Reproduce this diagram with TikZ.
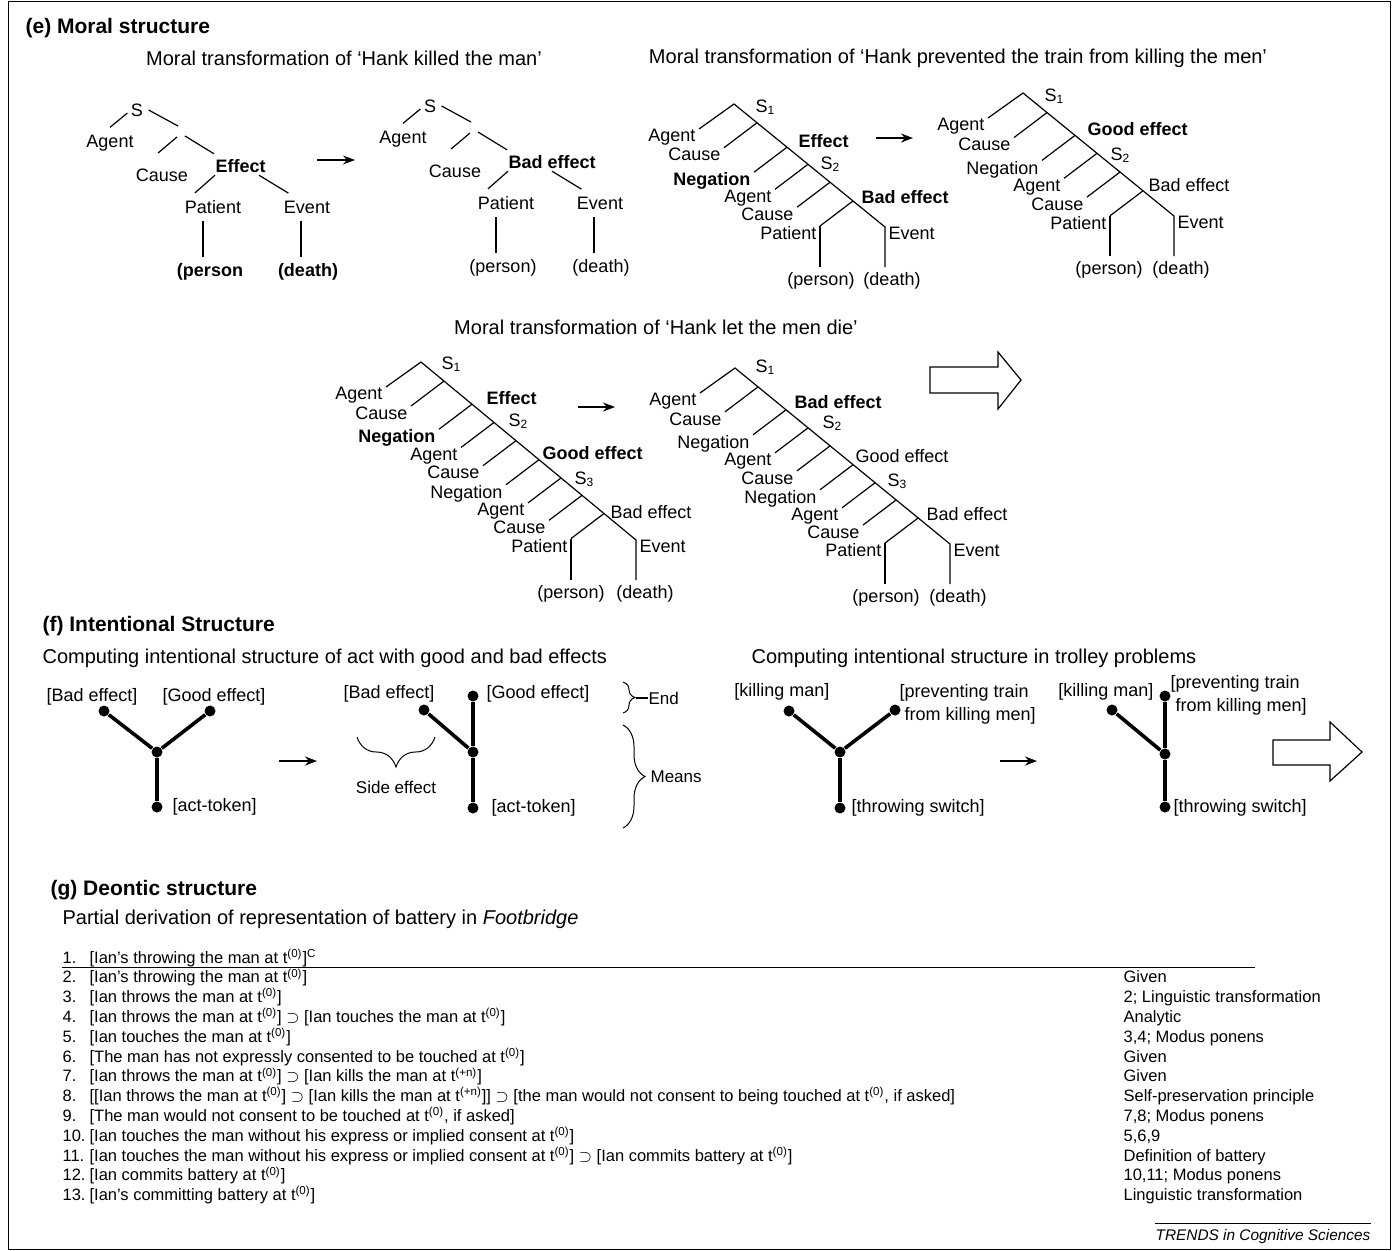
\documentclass[tikz,border=0pt]{standalone}
\usepackage{fontspec}
\setmainfont{Liberation Sans}
\usetikzlibrary{calc,arrows.meta,decorations.pathreplacing}

\newcommand{\tnull}{t\textsuperscript{(0)}}
\newcommand{\tplus}{t\textsuperscript{(+n)}}

\tikzset{
  lbl/.style={inner sep=0pt, font=\fontsize{9}{11.5}\selectfont},
  brl/.style={lbl, inner xsep=1.5pt, anchor=north east},
  small/.style={inner sep=0pt, font=\fontsize{8.5}{10}\selectfont},
  ttl/.style={inner sep=0pt, anchor=west, font=\fontsize{10}{12}\selectfont},
  sect/.style={inner sep=0pt, anchor=west, font=\fontsize{10.5}{12}\selectfont\bfseries},
  row/.style={inner sep=0pt, anchor=base west, font=\fontsize{8.25}{10}\selectfont},
  dot/.style={circle, fill, inner sep=0pt, minimum size=5.5pt},
  bond/.style={line width=1.8pt},
  arr/.style={-{Stealth[length=6pt,width=4.5pt]}, line width=0.6pt},
  brc/.style={decorate, decoration={brace, amplitude=#1}, line width=0.5pt}
}

\begin{document}
\begin{tikzpicture}[x=0.5pt, y=-0.5pt, line width=0.6pt]
\useasboundingbox (0,0) rectangle (1393,1250);
\draw[line width=0.5pt] (8,1) rectangle (1390,1249);

% (e) moral structure
\node[sect] (secE) at (25,28) {(e) Moral structure};
\node[ttl, anchor=center] (ttlKill) at (344,58) {Moral transformation of ‘Hank killed the man’};
\node[ttl, anchor=center] (ttlPrev) at (958,58) {Moral transformation of ‘Hank prevented the train from killing the men’};
\node[ttl, anchor=center] (ttlLet) at (656,327) {Moral transformation of ‘Hank let the men die’};

% 'Hank killed the man'
\foreach \tr/\dx/\dy/\eff/\per/\dea in {A/0/0/{\bfseries Effect}/{\bfseries (person}/{\bfseries (death)},
                                      B/293/-4/{\bfseries Bad effect}/{(person)}/{(death)}}{
  \begin{scope}[shift={(\dx,\dy)}]
    \node[lbl] (klS\tr) at (137,110) {S};
    \node[lbl] (klAg\tr) at (110,143) {Agent};
    \coordinate (klJ\tr) at (181,131);
    \node[lbl] (klCa\tr) at (162,175) {Cause};
    \node[lbl, anchor=west] (klEf\tr) at (215,166) {\eff};
    \node[lbl] (klPa\tr) at (213,207) {Patient};
    \node[lbl] (klEv\tr) at (307,207) {Event};
    \node[lbl] (klPe\tr) at (210,272) {\per};
    \node[lbl] (klDe\tr) at (308,272) {\dea};
    \draw ($(klS\tr.west)+(-3,3)$) -- ($(klAg\tr.north)+(0,-7)$);
    \draw ($(klS\tr.east)+(5,0)$) -- ($(klJ\tr)+(-3,-5)$);
    \draw ($(klJ\tr)+(-4,6)$) -- ($(klCa\tr.north)+(-4,-15)$);
    \draw ($(klJ\tr)+(4,5)$) -- ($(klEf\tr.north west)+(-1,-5)$);
    \draw ($(klEf\tr.south west)+(0,2)$) -- ($(klPa\tr.north)+(-18,-7)$);
    \draw ($(klEf\tr.south west)+(44,2)$) -- ($(klEv\tr.north west)+(5,-7)$);
    \draw ($(klPa\tr.south)+(-10,7)$) -- ($(klPe\tr.north)+(-7,-6)$);
    \draw ($(klEv\tr.south)+(-6,7)$) -- ($(klDe\tr.north)+(-7,-6)$);
  \end{scope}
}
\coordinate (klArrS) at (317,160);
\coordinate (klArrE) at (355,160);
\draw[arr] (klArrS) -- (klArrE);

% 'Hank prevented the train ...', before
\begin{scope}[shift={(734,104)}]
  \coordinate (pvA0) at (0,0);
  \node[brl] (pvAl0) at (-35,25) {Agent};
  \foreach \t/\lab [count=\i] in {23/Cause,53/{\bfseries Negation},74/Agent,96/Cause,119/Patient}{
    \coordinate (pvA\i) at (\t,0.815*\t);
    \node[brl] (pvAl\i) at ($(pvA\i)+(-33,25)$) {\lab};
    \draw (pvA\i) -- (pvAl\i.north east);
  }
  \coordinate (pvAe) at (151,123);
  \node[lbl, anchor=north west] (pvAev) at ($(pvAe)+(3,0)$) {Event};
\end{scope}
\node[lbl, anchor=west] (pvAs1) at (755,107) {S\textsubscript{1}};
\node[lbl, anchor=west, font=\fontsize{9}{11}\selectfont\bfseries] (pvAef) at (798,141) {Effect};
\node[lbl, anchor=west] (pvAs2) at (820,164) {S\textsubscript{2}};
\node[lbl, anchor=west, font=\fontsize{9}{11}\selectfont\bfseries] (pvAbad) at (861,197) {Bad effect};
\node[lbl] (pvApe) at (821,281) {(person)};
\node[lbl] (pvAde) at (892,281) {(death)};
\draw (pvAl0.north east) -- (pvA0) -- (pvAe) -- ($(pvAe |- pvAde.north)+(0,-5)$);
\draw (pvAl5.north east) -- ($(pvAl5.north east |- pvApe.north)+(0,-5)$);
\coordinate (pvArrS) at (876,138);
\coordinate (pvArrE) at (913,138);
\draw[arr] (pvArrS) -- (pvArrE);

% 'Hank prevented the train ...', after
\begin{scope}[shift={(1023,93)}]
  \coordinate (pvB0) at (0,0);
  \node[brl] (pvBl0) at (-35,25) {Agent};
  \foreach \t/\lab [count=\i] in {24/Cause,52/Negation,74/Agent,97/Cause,120/Patient}{
    \coordinate (pvB\i) at (\t,0.815*\t);
    \node[brl] (pvBl\i) at ($(pvB\i)+(-33,25)$) {\lab};
    \draw (pvB\i) -- (pvBl\i.north east);
  }
  \coordinate (pvBe) at (151,123);
  \node[lbl, anchor=north west] (pvBev) at ($(pvBe)+(3,0)$) {Event};
\end{scope}
\node[lbl, anchor=west] (pvBs1) at (1044,96) {S\textsubscript{1}};
\node[lbl, anchor=west, font=\fontsize{9}{11}\selectfont\bfseries] (pvBgood) at (1087,129) {Good effect};
\node[lbl, anchor=west] (pvBs2) at (1110,155) {S\textsubscript{2}};
\node[lbl, anchor=west] (pvBbad) at (1148,185) {Bad effect};
\node[lbl] (pvBpe) at (1109,270) {(person)};
\node[lbl] (pvBde) at (1181,270) {(death)};
\draw (pvBl0.north east) -- (pvB0) -- (pvBe) -- ($(pvBe |- pvBde.north)+(0,-5)$);
\draw (pvBl5.north east) -- ($(pvBl5.north east |- pvBpe.north)+(0,-5)$);

% 'Hank let the men die', before
\begin{scope}[shift={(421,362)}]
  \coordinate (ltA0) at (0,0);
  \node[brl] (ltAl0) at (-35,25) {Agent};
  \foreach \t/\lab [count=\i] in {23/Cause,51/{\bfseries Negation},73/Agent,95/Cause,118/Negation,140/Agent,161/Cause,183/Patient}{
    \coordinate (ltA\i) at (\t,0.828*\t);
    \node[brl] (ltAl\i) at ($(ltA\i)+(-33,25)$) {\lab};
    \draw (ltA\i) -- (ltAl\i.north east);
  }
  \coordinate (ltAe) at (215,178);
  \node[lbl, anchor=north west] (ltAev) at ($(ltAe)+(3,0)$) {Event};
\end{scope}
\node[lbl, anchor=west] (ltAs1) at (441,364) {S\textsubscript{1}};
\node[lbl, anchor=west, font=\fontsize{9}{11}\selectfont\bfseries] (ltAef) at (486,398) {Effect};
\node[lbl, anchor=west] (ltAs2) at (508,421) {S\textsubscript{2}};
\node[lbl, anchor=west, font=\fontsize{9}{11}\selectfont\bfseries] (ltAgood) at (542,453) {Good effect};
\node[lbl, anchor=west] (ltAs3) at (574,479) {S\textsubscript{3}};
\node[lbl, anchor=west] (ltAbad) at (610,512) {Bad effect};
\node[lbl] (ltApe) at (571,594) {(person)};
\node[lbl] (ltAde) at (645,594) {(death)};
\draw (ltAl0.north east) -- (ltA0) -- (ltAe) -- ($(ltAe |- ltAde.north)+(0,-5)$);
\draw (ltAl8.north east) -- ($(ltAl8.north east |- ltApe.north)+(0,-5)$);
\coordinate (ltArrS) at (578,407);
\coordinate (ltArrE) at (615,407);
\draw[arr] (ltArrS) -- (ltArrE);

% 'Hank let the men die', after
\begin{scope}[shift={(735,368)}]
  \coordinate (ltB0) at (0,0);
  \node[brl] (ltBl0) at (-35,25) {Agent};
  \foreach \t/\lab [count=\i] in {23/Cause,51/Negation,73/Agent,95/Cause,118/Negation,140/Agent,161/Cause,183/Patient}{
    \coordinate (ltB\i) at (\t,0.82*\t);
    \node[brl] (ltBl\i) at ($(ltB\i)+(-33,25)$) {\lab};
    \draw (ltB\i) -- (ltBl\i.north east);
  }
  \coordinate (ltBe) at (215,176);
  \node[lbl, anchor=north west] (ltBev) at ($(ltBe)+(3,0)$) {Event};
\end{scope}
\node[lbl, anchor=west] (ltBs1) at (755,367) {S\textsubscript{1}};
\node[lbl, anchor=west, font=\fontsize{9}{11}\selectfont\bfseries] (ltBbad) at (794,402) {Bad effect};
\node[lbl, anchor=west] (ltBs2) at (822,423) {S\textsubscript{2}};
\node[lbl, anchor=west] (ltBgood) at (855,456) {Good effect};
\node[lbl, anchor=west] (ltBs3) at (887,481) {S\textsubscript{3}};
\node[lbl, anchor=west] (ltBbad2) at (926,514) {Bad effect};
\node[lbl] (ltBpe) at (886,598) {(person)};
\node[lbl] (ltBde) at (958,598) {(death)};
\draw (ltBl0.north east) -- (ltB0) -- (ltBe) -- ($(ltBe |- ltBde.north)+(0,-5)$);
\draw (ltBl8.north east) -- ($(ltBl8.north east |- ltBpe.north)+(0,-5)$);

% hollow arrow
\draw (930,367) -- (998,367) -- (998,352) -- (1021,380) -- (998,409) -- (998,393) -- (930,393) -- cycle;

% (f) intentional structure
\node[sect] (secF) at (42,626) {(f) Intentional Structure};
\node[ttl] (ttlAct) at (42,658) {Computing intentional structure of act with good and bad effects};
\node[ttl] (ttlTrol) at (751,658) {Computing intentional structure in trolley problems};

% act with good and bad effects, before
\node[lbl] (acBadL) at (92,697) {[Bad effect]};
\node[lbl] (acGoodL) at (214,697) {[Good effect]};
\node[dot] (acBad) at (104,711) {};
\node[dot] (acGood) at (210,711) {};
\node[dot] (acMid) at (157,752) {};
\node[dot] (acTok) at (157,807) {};
\node[lbl, anchor=west] (acTokL) at (172,807) {[act-token]};
\draw[bond] (acBad) -- (acMid) -- (acGood) (acMid) -- (acTok);
\coordinate (acArrS) at (279,761);
\coordinate (acArrE) at (317,761);
\draw[arr] (acArrS) -- (acArrE);

% act with good and bad effects, after
\node[lbl] (adBadL) at (389,694) {[Bad effect]};
\node[lbl, anchor=west] (adGoodL) at (486,694) {[Good effect]};
\node[dot] (adBad) at (424,710) {};
\node[dot] (adGood) at (473,696) {};
\node[dot] (adMid) at (473,752) {};
\node[dot] (adTok) at (473,808) {};
\node[lbl, anchor=west] (adTokL) at (491,808) {[act-token]};
\draw[bond] (adBad) -- (adMid) (adGood) -- (adMid) -- (adTok);
\draw[brc=15pt] (435,737) -- (357,737);
\node[small] (adSide) at (396,787) {Side effect};
\draw[brc=6pt] (623,682) -- (623,713);
\node[small, anchor=west] (adEnd) at (648,698) {End};
\draw (636,698) -- (adEnd.west);
\draw[brc=11pt] (623,725) -- (623,828);
\node[small, anchor=west] (adMeans) at (650,777) {Means};

% trolley problems, before
\node[lbl] (tpKillL) at (782,692) {[killing man]};
\node[lbl, anchor=north west, align=left] (tpPrevL) at (899,684) {[preventing train\\\hphantom{[}from killing men]};
\node[dot] (tpKill) at (789,711) {};
\node[dot] (tpPrev) at (895,710) {};
\node[dot] (tpMid) at (840,752) {};
\node[dot] (tpSw) at (840,808) {};
\node[lbl, anchor=west] (tpSwL) at (851,808) {[throwing switch]};
\draw[bond] (tpKill) -- (tpMid) -- (tpPrev) (tpMid) -- (tpSw);
\coordinate (tpArrS) at (1000,761);
\coordinate (tpArrE) at (1037,761);
\draw[arr] (tpArrS) -- (tpArrE);

% trolley problems, after
\node[lbl] (tqKillL) at (1106,692) {[killing man]};
\node[lbl, anchor=north west, align=left] (tqPrevL) at (1170,675) {[preventing train\\\hphantom{[}from killing men]};
\node[dot] (tqKill) at (1112,710) {};
\node[dot] (tqPrev) at (1165,696) {};
\node[dot] (tqMid) at (1165,754) {};
\node[dot] (tqSw) at (1165,807) {};
\node[lbl, anchor=west] (tqSwL) at (1173,808) {[throwing switch]};
\draw[bond] (tqKill) -- (tqMid) (tqPrev) -- (tqMid) -- (tqSw);
\draw (1273,740) -- (1330,740) -- (1330,722) -- (1362,752) -- (1330,781) -- (1330,765) -- (1273,765) -- cycle;

% (g) deontic structure
\node[sect] (secG) at (50,890) {(g) Deontic structure};
\node[ttl] (ttlDer) at (62,919) {Partial derivation of representation of battery in \textit{Footbridge}};
\foreach \txt/\why [count=\i] in {
  {[Ian’s throwing the man at \tnull]\textsuperscript{C}}/{},
  {[Ian’s throwing the man at \tnull]}/Given,
  {[Ian throws the man at \tnull]}/{2; Linguistic transformation},
  {[Ian throws the man at \tnull] $\supset$ [Ian touches the man at \tnull]}/Analytic,
  {[Ian touches the man at \tnull]}/{3,4; Modus ponens},
  {[The man has not expressly consented to be touched at \tnull]}/Given,
  {[Ian throws the man at \tnull] $\supset$ [Ian kills the man at \tplus]}/Given,
  {[[Ian throws the man at \tnull] $\supset$ [Ian kills the man at \tplus]] $\supset$ [the man would not consent to being touched at \tnull, if asked]}/{Self-preservation principle},
  {[The man would not consent to be touched at \tnull, if asked]}/{7,8; Modus ponens},
  {[Ian touches the man without his express or implied consent at \tnull]}/{5,6,9},
  {[Ian touches the man without his express or implied consent at \tnull] $\supset$ [Ian commits battery at \tnull]}/{Definition of battery},
  {[Ian commits battery at \tnull]}/{10,11; Modus ponens},
  {[Ian’s committing battery at \tnull]}/{Linguistic transformation}}{
  \node[row] (num\i) at (62,{963+19.8*(\i-1)}) {\i.};
  \node[row] (stm\i) at (89,{963+19.8*(\i-1)}) {\txt};
  \node[row] (why\i) at (1123,{963+19.8*(\i-1)}) {\why};
}
\draw[line width=0.5pt] (62,967) -- (1255,967);

\node[row, font=\fontsize{7.7}{9}\selectfont\itshape] (trends) at (1155,1240) {TRENDS in Cognitive Sciences};
\draw[line width=0.5pt] ($(trends.north west)+(0,-5)$) -- ($(trends.north east)+(0,-5)$);
\end{tikzpicture}
\end{document}
